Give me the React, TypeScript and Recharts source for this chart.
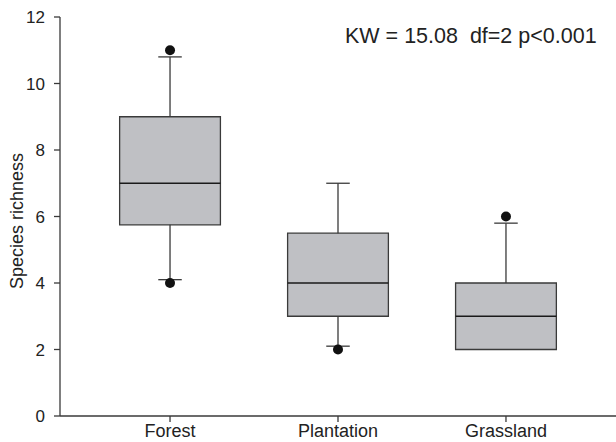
import { ComposedChart, XAxis, YAxis, Scatter, ReferenceArea, ReferenceLine, Customized } from 'recharts'

const categories = ['Forest', 'Plantation', 'Grassland']
const q1 = [5.75, 3, 2]
const median = [7, 4, 3]
const q3 = [9, 5.5, 4]
const whiskerLow = [4.1, 2.1, 2]
const whiskerHigh = [10.8, 7, 5.8]
const outlierGroup = [1, 1, 2, 3]
const outlierValue = [11, 4, 2, 6]
const yTicks = [0, 2, 4, 6, 8, 10, 12]

const FONT = "Arial, 'Liberation Sans', sans-serif"
const INK = '#222'
const LINE = '#3a3a3a'
const BOX_FILL = '#bfc0c4'
const HALF_BOX = 0.3
const HALF_CAP = 0.07

const outliers = outlierGroup.map((g, i) => ({ x: g, y: outlierValue[i] }))

function YLabel() {
  return (
    <text
      x={23}
      y={221}
      transform="rotate(-90, 23, 221)"
      textAnchor="middle"
      fontSize={18}
      fill={INK}
      fontFamily={FONT}
    >
      Species richness
    </text>
  )
}

function Stats() {
  return (
    <text x={345} y={43} fontSize={21.5} fill={INK} fontFamily={FONT} style={{ whiteSpace: 'pre' }}>
      KW = 15.08  df=2 p&lt;0.001
    </text>
  )
}

export default function App() {
  return (
    <div style={{ position: 'absolute', left: 0, top: 0, background: '#fff' }}>
      <ComposedChart width={616} height={442} margin={{ top: 17, right: 0, bottom: 0, left: 0 }}>
        <XAxis
          type="number"
          dataKey="x"
          domain={[0.345, 3.655]}
          ticks={[1, 2, 3]}
          tickFormatter={(v: number) => categories[v - 1]}
          allowDataOverflow
          height={26}
          tickSize={6}
          tickMargin={2}
          tick={{ fontSize: 18, fill: INK, fontFamily: FONT }}
          axisLine={{ stroke: LINE, strokeWidth: 1.3 }}
          tickLine={{ stroke: LINE, strokeWidth: 1.3 }}
        />
        <YAxis
          type="number"
          dataKey="y"
          domain={[0, 12]}
          ticks={yTicks}
          allowDataOverflow
          width={60}
          tickSize={6}
          tickMargin={9}
          tick={{ fontSize: 17, fill: INK, fontFamily: FONT }}
          axisLine={{ stroke: LINE, strokeWidth: 1.3 }}
          tickLine={{ stroke: LINE, strokeWidth: 1.3 }}
        />
        {categories.map((_, i) => {
          const x = i + 1
          return [
            <ReferenceLine
              key={`wh${i}`}
              segment={[{ x, y: q3[i] }, { x, y: whiskerHigh[i] }]}
              stroke={LINE}
              strokeWidth={1.3}
            />,
            <ReferenceLine
              key={`ch${i}`}
              segment={[{ x: x - HALF_CAP, y: whiskerHigh[i] }, { x: x + HALF_CAP, y: whiskerHigh[i] }]}
              stroke={LINE}
              strokeWidth={1.3}
            />,
            whiskerLow[i] < q1[i] && (
              <ReferenceLine
                key={`wl${i}`}
                segment={[{ x, y: q1[i] }, { x, y: whiskerLow[i] }]}
                stroke={LINE}
                strokeWidth={1.3}
              />
            ),
            whiskerLow[i] < q1[i] && (
              <ReferenceLine
                key={`cl${i}`}
                segment={[{ x: x - HALF_CAP, y: whiskerLow[i] }, { x: x + HALF_CAP, y: whiskerLow[i] }]}
                stroke={LINE}
                strokeWidth={1.3}
              />
            ),
            <ReferenceArea
              key={`box${i}`}
              x1={x - HALF_BOX}
              x2={x + HALF_BOX}
              y1={q1[i]}
              y2={q3[i]}
              fill={BOX_FILL}
              fillOpacity={1}
              stroke={LINE}
              strokeWidth={1.3}
            />,
            <ReferenceLine
              key={`med${i}`}
              segment={[{ x: x - HALF_BOX, y: median[i] }, { x: x + HALF_BOX, y: median[i] }]}
              stroke="#1a1a1a"
              strokeWidth={1.3}
            />,
          ]
        })}
        <Scatter
          data={outliers}
          dataKey="y"
          fill="#111"
          isAnimationActive={false}
          shape={(p: any) => <circle cx={p.cx} cy={p.cy} r={5} fill="#111" />}
        />
        <Customized component={<YLabel />} />
        <Customized component={<Stats />} />
      </ComposedChart>
    </div>
  )
}
